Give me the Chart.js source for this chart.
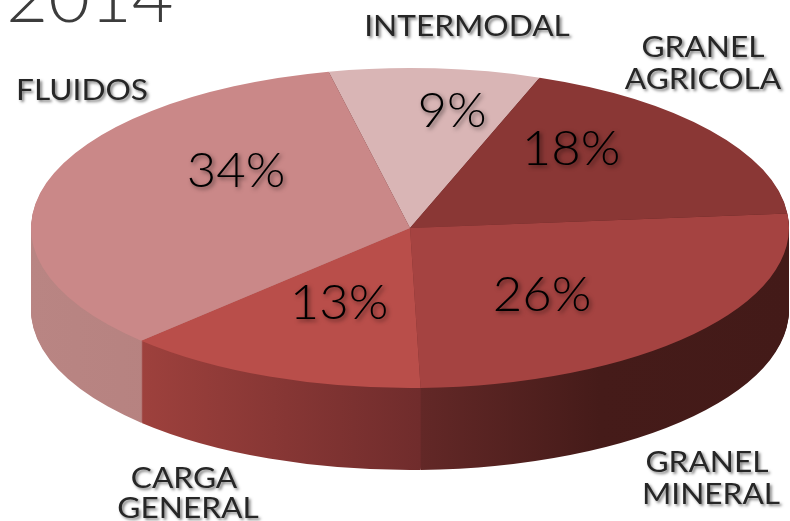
<!DOCTYPE html>
<html>
<head>
<meta charset="utf-8">
<title>2014</title>
<script src="https://cdn.jsdelivr.net/npm/chart.js@4/dist/chart.umd.min.js"></script>
<style>
  html, body { margin: 0; padding: 0; background: #fff; }
  #box { width: 790px; height: 521px; overflow: hidden; }
  #pie { filter: blur(0.4px); }
</style>
</head>
<body>
<div id="box"><canvas id="pie" width="790" height="521"></canvas></div>
<script>
const chartTitle = "2014";
const categories = ["INTERMODAL", "GRANEL AGRICOLA", "GRANEL MINERAL", "CARGA GENERAL", "FLUIDOS"];
const shares = [9, 18, 26, 13, 34];

const topColors = ["#d9b5b5", "#8a3735", "#a54341", "#b94e4a", "#ca8888"];

// where the texts sit: [x, baseline y], one pair per line for the names
const percentSpots = [[452, 127], [571, 165], [542, 311], [339, 319], [236, 187]];
const nameSpots = [
  [[467, 36]],
  [[703, 57], [703, 89]],
  [[707, 472], [711, 504]],
  [[184, 488], [188, 518]],
  [[82, 100]]
];

const RADIUS = 379;
const SQUASH = 160 / 379;
const DEPTH = 82;

function sideGradient(ctx, i) {
  const g = ctx.createLinearGradient(30, 0, 790, 0);
  const at = x => (x - 30) / 760;
  if (i === 4) {
    g.addColorStop(0, "#b98583");
    g.addColorStop(1, "#a97472");
  } else if (i === 3) {
    g.addColorStop(at(140), "#9e413d");
    g.addColorStop(at(420), "#702c2c");
    g.addColorStop(1, "#702c2c");
  } else {
    g.addColorStop(at(420), "#632827");
    g.addColorStop(at(600), "#451b19");
    g.addColorStop(1, "#431a18");
  }
  return g;
}

function drawText(ctx, text, x, y, font, color, blur, off, wide) {
  ctx.save();
  ctx.translate(x, y);
  ctx.scale(wide, 1);
  ctx.font = font;
  ctx.fillStyle = color;
  ctx.textAlign = "center";
  ctx.textBaseline = "alphabetic";
  ctx.shadowColor = "rgba(0,0,0,0.5)";
  ctx.shadowBlur = blur;
  ctx.shadowOffsetX = off;
  ctx.shadowOffsetY = off;
  ctx.fillText(text, 0, 0);
  ctx.restore();
}

const tiltPlugin = {
  id: "tilt",
  beforeDatasetsDraw(chart) {
    const ctx = chart.ctx;
    const arcs = chart.getDatasetMeta(0).data;
    const cy = arcs[0].y;
    const fills = arcs.map((_, i) => sideGradient(ctx, i));

    // the rim: the same slices again, stacked downwards
    for (let d = DEPTH; d >= 1; d--) {
      ctx.save();
      ctx.translate(0, cy + d);
      ctx.scale(1, SQUASH);
      ctx.translate(0, -cy);
      arcs.forEach((arc, i) => {
        const keep = arc.options;
        arc.options = Object.assign({}, keep, { backgroundColor: fills[i] });
        arc.draw(ctx);
        arc.options = keep;
      });
      ctx.restore();
    }

    ctx.save();
    ctx.translate(0, cy);
    ctx.scale(1, SQUASH);
    ctx.translate(0, -cy);
  },
  afterDatasetsDraw(chart) {
    const ctx = chart.ctx;
    ctx.restore();

    drawText(ctx, chartTitle, 90, 22, "300 70px Lato", "#3c3c3c", 0, 0, 1.03);

    shares.forEach((v, i) => {
      drawText(ctx, v + "%", percentSpots[i][0], percentSpots[i][1], "300 48px Lato", "#000", 4, 2, 1.06);
    });

    categories.forEach((name, i) => {
      const spots = nameSpots[i];
      const lines = spots.length > 1 ? name.split(" ") : [name];
      lines.forEach((line, j) => {
        drawText(ctx, line, spots[j][0], spots[j][1], "28px Lato", "#262626", 3, 2, 1.13);
      });
    });
  }
};

new Chart(document.getElementById("pie"), {
  type: "pie",
  data: {
    labels: categories,
    datasets: [{
      data: shares,
      backgroundColor: topColors,
      borderWidth: 0,
      radius: RADIUS,
      rotation: -12.4
    }]
  },
  options: {
    responsive: false,
    animation: false,
    layout: { padding: { left: 30, right: 0, top: 0, bottom: 65 } },
    plugins: { legend: { display: false }, tooltip: { enabled: false } }
  },
  plugins: [tiltPlugin]
});
</script>
</body>
</html>
